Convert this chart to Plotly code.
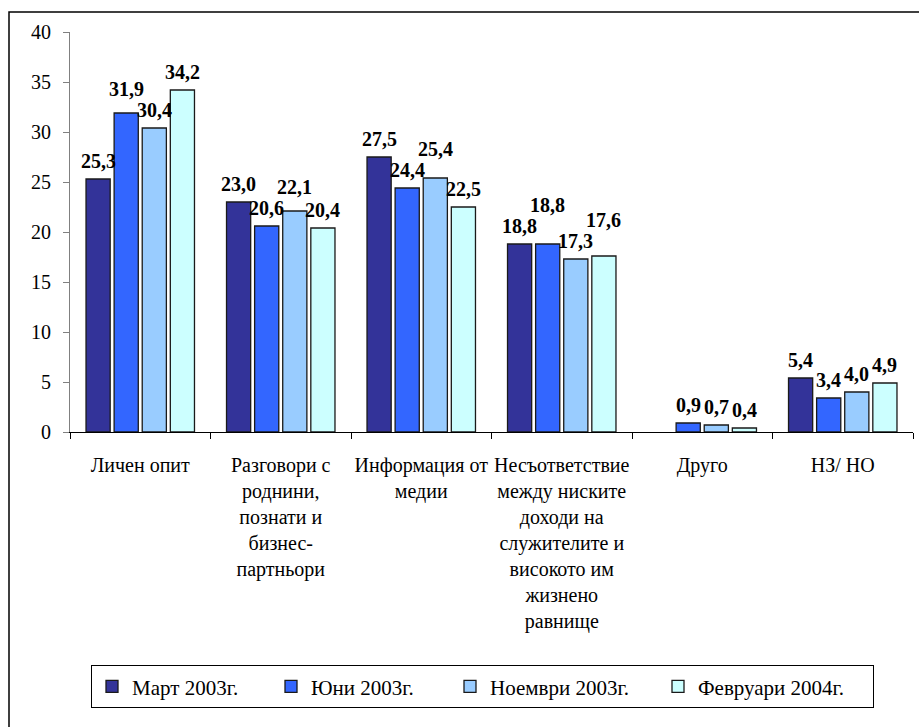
import plotly.graph_objects as go

categories = [
    "Личен опит",
    "Разговори с<br>роднини,<br>познати и<br>бизнес-<br>партньори",
    "Информация от<br>медии",
    "Несъответствие<br>между ниските<br>доходи на<br>служителите и<br>високото им<br>жизнено<br>равнище",
    "Друго",
    "НЗ/ НО",
]
series_names = ["Март 2003г.", "Юни 2003г.", "Ноември 2003г.", "Февруари 2004г."]
mart_2003 = [25.3, 23.0, 27.5, 18.8, None, 5.4]
yuni_2003 = [31.9, 20.6, 24.4, 18.8, 0.9, 3.4]
noemvri_2003 = [30.4, 22.1, 25.4, 17.3, 0.7, 4.0]
fevruari_2004 = [34.2, 20.4, 22.5, 17.6, 0.4, 4.9]
y_ticks = [0, 5, 10, 15, 20, 25, 30, 35, 40]

series_values = [mart_2003, yuni_2003, noemvri_2003, fevruari_2004]
colors = ["#333399", "#3366FF", "#99CCFF", "#CCFFFF"]
legend_entry_px = [134, 134, 163, 170]   # legend item widths (style)

FONT = "Liberation Serif"

# ---- layout geometry ----
W, H = 919, 727
ML, MR, MT, MB = 70, 6, 32, 294.5
BARGAP, BARGROUPGAP = 0.2, 0.14
YMAX = 40
LABEL_SIZE = 20


def fmt(v):
    return f"{v:.1f}".replace(".", ",")


fig = go.Figure()
for name, vals, col, lw in zip(series_names, series_values, colors, legend_entry_px):
    fig.add_trace(go.Bar(
        name=name,
        x=categories,
        y=vals,
        marker=dict(color=col, line=dict(color="#1a1a1a", width=1.3)),
        legendwidth=lw,
        hoverinfo="x+y+name",
    ))

# ---- value labels: placed above each bar, staggered so neighbours do not collide ----
plot_w = W - ML - MR
plot_h = H - MT - MB
ppu = plot_h / YMAX                      # pixels per axis unit
slot = plot_w / len(categories) * (1 - BARGAP) / len(series_values)
base_lift = 18                           # label centre above bar top (px)
sep = 21                                 # min vertical distance between colliding labels
n_ser = len(series_values)


def text_w(s):
    return sum(LABEL_SIZE * (0.25 if ch == "," else 0.5) for ch in s)


annotations = []
for ci, cat in enumerate(categories):
    labs = []
    for si in range(n_ser):
        v = series_values[si][ci]
        if v is None:
            continue
        t = fmt(v)
        labs.append(dict(si=si, v=v, t=t, w=text_w(t), h=v * ppu + base_lift))

    def resolve(k):
        if k <= 0:
            return
        a, b = labs[k - 1], labs[k]
        if b["si"] - a["si"] != 1:
            return
        if (a["w"] + b["w"]) / 2 <= slot:
            return
        if abs(a["h"] - b["h"]) >= sep:
            return
        if b["h"] >= a["h"]:
            b["h"] = a["h"] + sep
        else:
            a["h"] = b["h"] + sep
            resolve(k - 1)

    for k in range(1, len(labs)):
        resolve(k)

    for lab in labs:
        annotations.append(dict(
            x=cat, xref="x", y=lab["v"], yref="y",
            xshift=(lab["si"] - (n_ser - 1) / 2) * slot,
            yshift=lab["h"] - lab["v"] * ppu,
            yanchor="middle", xanchor="center",
            text=f"<b>{lab['t']}</b>", showarrow=False,
            font=dict(family=FONT, size=LABEL_SIZE, color="black"),
        ))

fig.update_layout(
    barmode="group",
    bargap=BARGAP,
    bargroupgap=BARGROUPGAP,
    width=W,
    height=H,
    margin=dict(l=ML, r=MR, t=MT, b=MB, autoexpand=False),
    paper_bgcolor="white",
    plot_bgcolor="white",
    font=dict(family=FONT, color="black"),
    annotations=annotations,
    showlegend=True,
    legend=dict(
        orientation="h",
        x=(91 - ML) / plot_w,
        xanchor="left",
        y=-0.583,
        yanchor="top",
        bordercolor="black",
        borderwidth=1,
        bgcolor="white",
        font=dict(family=FONT, size=21, color="black"),
        traceorder="normal",
    ),
    xaxis=dict(
        showline=True,
        linecolor="black",
        linewidth=1,
        ticks="outside",
        tickson="boundaries",
        ticklen=6,
        tickcolor="black",
        tickangle=0,
        tickfont=dict(family=FONT, size=20, color="black"),
        ticklabelstandoff=15,
        showgrid=False,
        fixedrange=True,
    ),
    yaxis=dict(
        range=[0, YMAX],
        tickvals=y_ticks,
        ticktext=[str(t) for t in y_ticks],
        showline=True,
        linecolor="#808080",
        linewidth=1,
        ticks="outside",
        ticklen=6,
        tickcolor="#808080",
        tickfont=dict(family=FONT, size=20, color="black"),
        ticklabelstandoff=8,
        showgrid=False,
        zeroline=False,
        fixedrange=True,
    ),
)

# outer chart border (extends past the right and bottom edges, as in the source)
fig.add_shape(
    type="rect", xref="paper", yref="paper",
    x0=(9 - ML) / plot_w, x1=1.2, y0=(H - MB - 12) / plot_h, y1=-0.9,
    line=dict(color="black", width=1.5), fillcolor="rgba(0,0,0,0)",
    layer="below",
)

fig.write_html(
    "out.html",
    config={"displayModeBar": False},
    post_script="document.body.style.margin='0';document.body.style.overflow='hidden';",
)
